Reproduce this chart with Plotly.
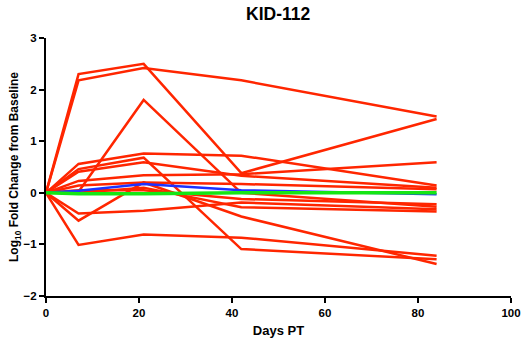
import plotly.graph_objects as go

days = [0, 7, 21, 42, 84]

red_series = [
    [0, 2.30, 2.50, 0.38, 1.43],
    [0, 2.18, 2.42, 2.18, 1.48],
    [0, 0.02, 1.80, 0.00, -0.27],
    [0, 0.46, 0.68, -1.09, -1.29],
    [0, 0.56, 0.76, 0.72, 0.14],
    [0, 0.41, 0.59, 0.33, 0.10],
    [0, 0.23, 0.34, 0.36, 0.59],
    [0, 0.14, 0.20, 0.17, 0.07],
    [0, 0.05, 0.05, -0.12, -0.22],
    [0, -0.40, -0.35, -0.19, -0.32],
    [0, 0.00, 0.10, -0.28, -0.36],
    [0, -0.54, 0.20, -0.46, -1.38],
    [0, -1.01, -0.81, -0.87, -1.22],
]
blue_series = [0, 0.04, 0.17, 0.05, -0.03]
green_series = [0, -0.02, -0.02, 0.0, 0.0]

x_ticks = [0, 20, 40, 60, 80, 100]
y_ticks = [-2, -1, 0, 1, 2, 3]

RED = "rgb(255,38,0)"
BLUE = "rgb(30,50,255)"
GREEN = "rgb(20,230,20)"
FONT = "Arial, Liberation Sans, sans-serif"

fig = go.Figure()
for s in red_series:
    fig.add_trace(go.Scatter(x=days, y=s, mode="lines",
                             line=dict(color=RED, width=2.5), showlegend=False))
fig.add_trace(go.Scatter(x=days, y=blue_series, mode="lines",
                         line=dict(color=BLUE, width=2.5), showlegend=False))
fig.add_trace(go.Scatter(x=days, y=green_series, mode="lines",
                         line=dict(color=GREEN, width=3.5), showlegend=False))

axis_common = dict(showline=True, linecolor="black", linewidth=2,
                   ticks="outside", ticklen=5, tickwidth=2, tickcolor="black",
                   showgrid=False, zeroline=False, automargin=False,
                   tickfont=dict(family=FONT, size=11.5, color="black", weight="bold"))

fig.update_layout(
    width=522, height=347,
    margin=dict(l=46, r=11, t=38, b=51),
    paper_bgcolor="white", plot_bgcolor="white",
    title=dict(text="<b>KID-112</b>", x=0.533, xanchor="center", y=0.96, yanchor="middle",
               automargin=False,
               font=dict(family=FONT, size=17.5, color="black")),
    xaxis=dict(range=[0, 100], tickvals=x_ticks,
               title=dict(text="<b>Days PT</b>", font=dict(family=FONT, size=13, color="black"), standoff=8),
               **axis_common),
    yaxis=dict(range=[-2, 3], tickvals=y_ticks,
               title=dict(text="<b>Log<sub>10</sub> Fold Change from Baseline</b>",
                          font=dict(family=FONT, size=12, color="black"), standoff=2),
               **axis_common),
)

fig.write_html("out.html")
